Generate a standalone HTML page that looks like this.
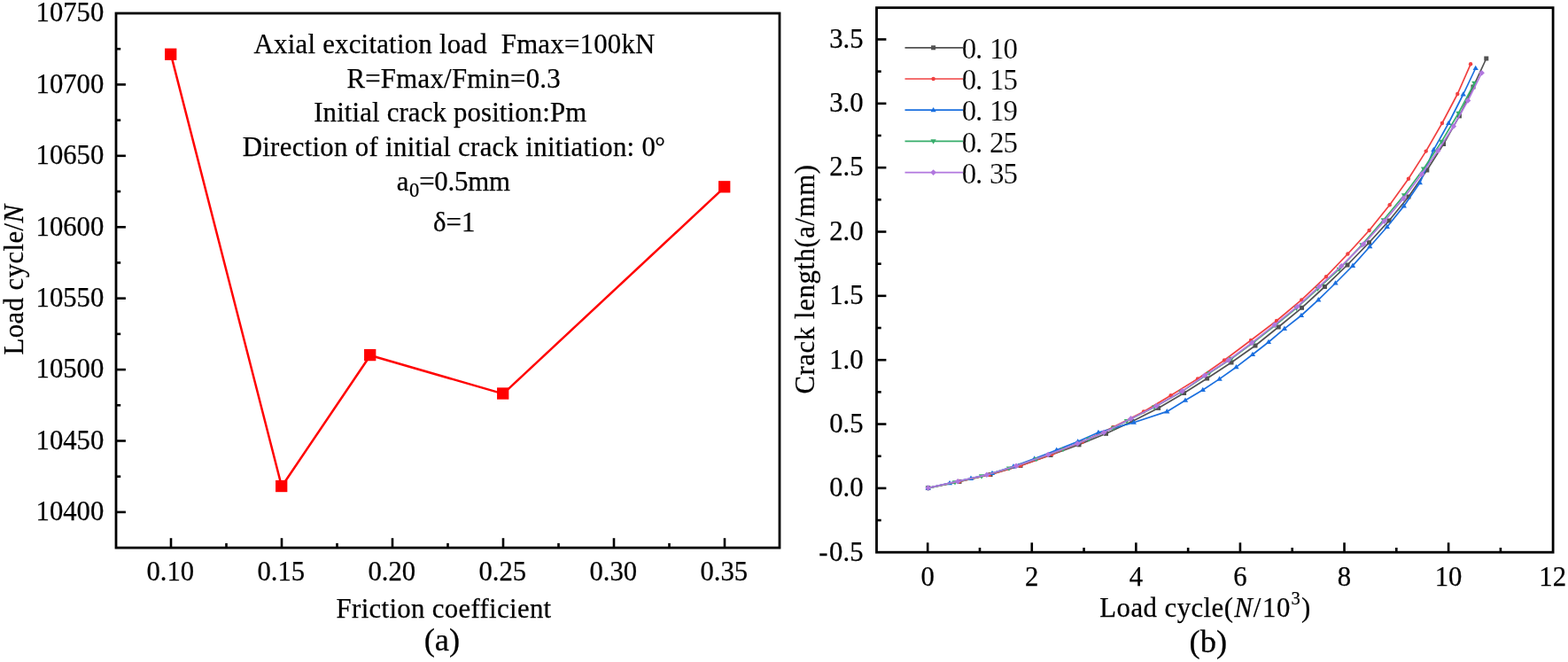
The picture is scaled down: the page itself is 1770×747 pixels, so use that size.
<!DOCTYPE html>
<html lang="en">
<head>
<meta charset="utf-8">
<title>Load cycle vs friction coefficient and crack length curves</title>
<style>
html, body { margin: 0; padding: 0; background: #ffffff; }
body { width: 1770px; height: 747px; overflow: hidden; }
svg { display: block; }
text { font-family: "Liberation Serif", serif; fill: #000; font-variant-ligatures: none; }
.t, .k, .c { stroke: #000; stroke-width: 0.25px; }
.t { font-size: 30.8px; }
.k { font-size: 30.7px; }
.c { font-size: 36.5px; }
.lg { font-size: 33px; stroke: #fff; stroke-width: 0.15px; paint-order: fill; }
.i { font-style: italic; }
.sub { font-size: 22.5px; }
.sup { font-size: 20.5px; }
.deg { font-size: 29px; }
</style>
</head>
<body>
<svg width="1770" height="747" viewBox="0 0 1770 747">
<rect x="0" y="0" width="1770" height="747" fill="#ffffff"/>
<g id="chart-a">
<rect x="131.0" y="15.0" width="749.00" height="603.10" fill="none" stroke="#000" stroke-width="2.8"/>
<line x1="193.00" y1="618.10" x2="193.00" y2="607.20" stroke="#000" stroke-width="2.6"/>
<text class="k" x="192.30" y="655.00" text-anchor="middle">0.10</text>
<line x1="318.00" y1="618.10" x2="318.00" y2="607.20" stroke="#000" stroke-width="2.6"/>
<text class="k" x="317.30" y="655.00" text-anchor="middle">0.15</text>
<line x1="443.00" y1="618.10" x2="443.00" y2="607.20" stroke="#000" stroke-width="2.6"/>
<text class="k" x="442.30" y="655.00" text-anchor="middle">0.20</text>
<line x1="568.00" y1="618.10" x2="568.00" y2="607.20" stroke="#000" stroke-width="2.6"/>
<text class="k" x="567.30" y="655.00" text-anchor="middle">0.25</text>
<line x1="693.00" y1="618.10" x2="693.00" y2="607.20" stroke="#000" stroke-width="2.6"/>
<text class="k" x="692.30" y="655.00" text-anchor="middle">0.30</text>
<line x1="818.00" y1="618.10" x2="818.00" y2="607.20" stroke="#000" stroke-width="2.6"/>
<text class="k" x="817.30" y="655.00" text-anchor="middle">0.35</text>
<line x1="255.50" y1="618.10" x2="255.50" y2="612.90" stroke="#000" stroke-width="2.6"/>
<line x1="380.50" y1="618.10" x2="380.50" y2="612.90" stroke="#000" stroke-width="2.6"/>
<line x1="505.50" y1="618.10" x2="505.50" y2="612.90" stroke="#000" stroke-width="2.6"/>
<line x1="630.50" y1="618.10" x2="630.50" y2="612.90" stroke="#000" stroke-width="2.6"/>
<line x1="755.50" y1="618.10" x2="755.50" y2="612.90" stroke="#000" stroke-width="2.6"/>
<line x1="131.00" y1="577.89" x2="141.90" y2="577.89" stroke="#000" stroke-width="2.6"/>
<text class="k" x="117.30" y="587.29" text-anchor="end">10400</text>
<line x1="131.00" y1="497.48" x2="141.90" y2="497.48" stroke="#000" stroke-width="2.6"/>
<text class="k" x="117.30" y="506.88" text-anchor="end">10450</text>
<line x1="131.00" y1="417.07" x2="141.90" y2="417.07" stroke="#000" stroke-width="2.6"/>
<text class="k" x="117.30" y="426.47" text-anchor="end">10500</text>
<line x1="131.00" y1="336.65" x2="141.90" y2="336.65" stroke="#000" stroke-width="2.6"/>
<text class="k" x="117.30" y="346.05" text-anchor="end">10550</text>
<line x1="131.00" y1="256.24" x2="141.90" y2="256.24" stroke="#000" stroke-width="2.6"/>
<text class="k" x="117.30" y="265.64" text-anchor="end">10600</text>
<line x1="131.00" y1="175.83" x2="141.90" y2="175.83" stroke="#000" stroke-width="2.6"/>
<text class="k" x="117.30" y="185.23" text-anchor="end">10650</text>
<line x1="131.00" y1="95.41" x2="141.90" y2="95.41" stroke="#000" stroke-width="2.6"/>
<text class="k" x="117.30" y="104.81" text-anchor="end">10700</text>
<text class="k" x="117.30" y="24.40" text-anchor="end">10750</text>
<line x1="131.00" y1="537.69" x2="136.20" y2="537.69" stroke="#000" stroke-width="2.6"/>
<line x1="131.00" y1="457.27" x2="136.20" y2="457.27" stroke="#000" stroke-width="2.6"/>
<line x1="131.00" y1="376.86" x2="136.20" y2="376.86" stroke="#000" stroke-width="2.6"/>
<line x1="131.00" y1="296.45" x2="136.20" y2="296.45" stroke="#000" stroke-width="2.6"/>
<line x1="131.00" y1="216.03" x2="136.20" y2="216.03" stroke="#000" stroke-width="2.6"/>
<line x1="131.00" y1="135.62" x2="136.20" y2="135.62" stroke="#000" stroke-width="2.6"/>
<line x1="131.00" y1="55.21" x2="136.20" y2="55.21" stroke="#000" stroke-width="2.6"/>
<polyline fill="none" stroke="#ff0000" stroke-width="2.5" stroke-linejoin="round" points="193.00,61.64 318.00,548.94 418.00,400.98 568.00,444.41 818.00,211.21"/>
<rect x="186.05" y="54.59" width="13.3" height="13.3" fill="#ff0000"/>
<rect x="311.05" y="541.89" width="13.3" height="13.3" fill="#ff0000"/>
<rect x="411.05" y="393.93" width="13.3" height="13.3" fill="#ff0000"/>
<rect x="561.05" y="437.36" width="13.3" height="13.3" fill="#ff0000"/>
<rect x="811.05" y="204.16" width="13.3" height="13.3" fill="#ff0000"/>
<text class="t" x="286.60" y="60.20" style="letter-spacing:0.240px">Axial excitation load&#160; Fmax=100kN</text>
<text class="t" x="391.40" y="99.00" style="letter-spacing:0.270px">R=Fmax/Fmin=0.3</text>
<text class="t" x="354.20" y="137.00" style="letter-spacing:0.150px">Initial crack position:Pm</text>
<text class="t" x="273.70" y="176.10" style="letter-spacing:0.310px">Direction of initial crack initiation: 0<tspan class="deg" dy="-1.6" dx="-0.9">°</tspan></text>
<text class="t" x="447.80" y="215.00" style="letter-spacing:-0.200px">a<tspan class="sub" dy="6.8" dx="0.6">0</tspan><tspan dy="-6.8" dx="0.2">=0.5mm</tspan></text>
<text class="t" x="489.00" y="260.70">δ=1</text>
<text class="t" x="379.60" y="697.30" style="letter-spacing:0.330px">Friction coefficient</text>
<text class="c" x="478.70" y="734.30">(a)</text>
<text class="t" transform="translate(25.50,400.40) rotate(-90)" style="letter-spacing:0.400px">Load cycle/<tspan class="i">N</tspan></text>
</g>
<g id="chart-b">
<rect x="989.5" y="8.7" width="763.60" height="614.50" fill="none" stroke="#000" stroke-width="2.8"/>
<line x1="1047.20" y1="623.20" x2="1047.20" y2="612.30" stroke="#000" stroke-width="2.6"/>
<line x1="1164.78" y1="623.20" x2="1164.78" y2="612.30" stroke="#000" stroke-width="2.6"/>
<line x1="1282.36" y1="623.20" x2="1282.36" y2="612.30" stroke="#000" stroke-width="2.6"/>
<line x1="1399.94" y1="623.20" x2="1399.94" y2="612.30" stroke="#000" stroke-width="2.6"/>
<line x1="1517.52" y1="623.20" x2="1517.52" y2="612.30" stroke="#000" stroke-width="2.6"/>
<line x1="1635.10" y1="623.20" x2="1635.10" y2="612.30" stroke="#000" stroke-width="2.6"/>
<text class="k" x="1047.20" y="660.70" text-anchor="middle">0</text>
<text class="k" x="1164.78" y="660.70" text-anchor="middle">2</text>
<text class="k" x="1282.36" y="660.70" text-anchor="middle">4</text>
<text class="k" x="1399.94" y="660.70" text-anchor="middle">6</text>
<text class="k" x="1517.52" y="660.70" text-anchor="middle">8</text>
<text class="k" x="1635.10" y="660.70" text-anchor="middle">10</text>
<text class="k" x="1752.68" y="660.70" text-anchor="middle">12</text>
<line x1="1105.99" y1="623.20" x2="1105.99" y2="618.00" stroke="#000" stroke-width="2.6"/>
<line x1="1223.57" y1="623.20" x2="1223.57" y2="618.00" stroke="#000" stroke-width="2.6"/>
<line x1="1341.15" y1="623.20" x2="1341.15" y2="618.00" stroke="#000" stroke-width="2.6"/>
<line x1="1458.73" y1="623.20" x2="1458.73" y2="618.00" stroke="#000" stroke-width="2.6"/>
<line x1="1576.31" y1="623.20" x2="1576.31" y2="618.00" stroke="#000" stroke-width="2.6"/>
<line x1="1693.89" y1="623.20" x2="1693.89" y2="618.00" stroke="#000" stroke-width="2.6"/>
<text class="k" x="924.30" y="632.55">-<tspan x="936.12">0.5</tspan></text>
<line x1="989.50" y1="550.90" x2="1000.40" y2="550.90" stroke="#000" stroke-width="2.6"/>
<text class="k" x="974.50" y="560.20" text-anchor="end">0.0</text>
<line x1="989.50" y1="478.55" x2="1000.40" y2="478.55" stroke="#000" stroke-width="2.6"/>
<text class="k" x="974.50" y="487.85" text-anchor="end">0.5</text>
<line x1="989.50" y1="406.20" x2="1000.40" y2="406.20" stroke="#000" stroke-width="2.6"/>
<text class="k" x="974.50" y="415.50" text-anchor="end">1.0</text>
<line x1="989.50" y1="333.85" x2="1000.40" y2="333.85" stroke="#000" stroke-width="2.6"/>
<text class="k" x="974.50" y="343.15" text-anchor="end">1.5</text>
<line x1="989.50" y1="261.50" x2="1000.40" y2="261.50" stroke="#000" stroke-width="2.6"/>
<text class="k" x="974.50" y="270.80" text-anchor="end">2.0</text>
<line x1="989.50" y1="189.15" x2="1000.40" y2="189.15" stroke="#000" stroke-width="2.6"/>
<text class="k" x="974.50" y="198.45" text-anchor="end">2.5</text>
<line x1="989.50" y1="116.80" x2="1000.40" y2="116.80" stroke="#000" stroke-width="2.6"/>
<text class="k" x="974.50" y="126.10" text-anchor="end">3.0</text>
<line x1="989.50" y1="44.45" x2="1000.40" y2="44.45" stroke="#000" stroke-width="2.6"/>
<text class="k" x="974.50" y="53.75" text-anchor="end">3.5</text>
<line x1="989.50" y1="587.07" x2="994.70" y2="587.07" stroke="#000" stroke-width="2.6"/>
<line x1="989.50" y1="514.73" x2="994.70" y2="514.73" stroke="#000" stroke-width="2.6"/>
<line x1="989.50" y1="442.38" x2="994.70" y2="442.38" stroke="#000" stroke-width="2.6"/>
<line x1="989.50" y1="370.02" x2="994.70" y2="370.02" stroke="#000" stroke-width="2.6"/>
<line x1="989.50" y1="297.68" x2="994.70" y2="297.68" stroke="#000" stroke-width="2.6"/>
<line x1="989.50" y1="225.32" x2="994.70" y2="225.32" stroke="#000" stroke-width="2.6"/>
<line x1="989.50" y1="152.98" x2="994.70" y2="152.98" stroke="#000" stroke-width="2.6"/>
<line x1="989.50" y1="80.62" x2="994.70" y2="80.62" stroke="#000" stroke-width="2.6"/>
<g class="s-k">
<polyline fill="none" stroke="#515151" stroke-width="1.7" stroke-linejoin="round" points="1047.7,550.6 1083.0,543.4 1118.0,535.5 1152.0,525.4 1186.0,513.5 1218.0,501.8 1248.5,489.3 1278.0,475.5 1307.6,460.4 1336.6,443.5 1362.6,427.0 1390.0,409.0 1417.0,390.0 1443.2,369.0 1469.5,347.3 1495.4,323.5 1521.0,299.0 1545.5,273.7 1568.0,249.0 1590.0,222.0 1610.8,192.0 1629.5,162.5 1647.4,130.9 1663.0,98.0 1677.8,66.0"/>
<rect x="1045.20" y="548.10" width="5.0" height="5.0" fill="#515151"/><rect x="1080.50" y="540.90" width="5.0" height="5.0" fill="#515151"/><rect x="1115.50" y="533.00" width="5.0" height="5.0" fill="#515151"/><rect x="1149.50" y="522.90" width="5.0" height="5.0" fill="#515151"/><rect x="1183.50" y="511.00" width="5.0" height="5.0" fill="#515151"/><rect x="1215.50" y="499.30" width="5.0" height="5.0" fill="#515151"/><rect x="1246.00" y="486.80" width="5.0" height="5.0" fill="#515151"/><rect x="1275.50" y="473.00" width="5.0" height="5.0" fill="#515151"/><rect x="1305.10" y="457.90" width="5.0" height="5.0" fill="#515151"/><rect x="1334.10" y="441.00" width="5.0" height="5.0" fill="#515151"/><rect x="1360.10" y="424.50" width="5.0" height="5.0" fill="#515151"/><rect x="1387.50" y="406.50" width="5.0" height="5.0" fill="#515151"/><rect x="1414.50" y="387.50" width="5.0" height="5.0" fill="#515151"/><rect x="1440.70" y="366.50" width="5.0" height="5.0" fill="#515151"/><rect x="1467.00" y="344.80" width="5.0" height="5.0" fill="#515151"/><rect x="1492.90" y="321.00" width="5.0" height="5.0" fill="#515151"/><rect x="1518.50" y="296.50" width="5.0" height="5.0" fill="#515151"/><rect x="1543.00" y="271.20" width="5.0" height="5.0" fill="#515151"/><rect x="1565.50" y="246.50" width="5.0" height="5.0" fill="#515151"/><rect x="1587.50" y="219.50" width="5.0" height="5.0" fill="#515151"/><rect x="1608.30" y="189.50" width="5.0" height="5.0" fill="#515151"/><rect x="1627.00" y="160.00" width="5.0" height="5.0" fill="#515151"/><rect x="1644.90" y="128.40" width="5.0" height="5.0" fill="#515151"/><rect x="1660.50" y="95.50" width="5.0" height="5.0" fill="#515151"/><rect x="1675.30" y="63.50" width="5.0" height="5.0" fill="#515151"/>
</g>
<g class="s-r">
<polyline fill="none" stroke="#f14040" stroke-width="1.7" stroke-linejoin="round" points="1047.7,550.6 1083.0,543.3 1117.0,535.7 1152.0,525.4 1187.6,512.6 1222.0,498.5 1256.5,482.0 1291.0,464.4 1321.6,446.2 1352.0,427.4 1382.0,406.5 1412.0,384.0 1441.0,362.0 1469.2,338.4 1497.0,312.2 1521.4,286.5 1545.6,260.0 1568.7,231.2 1589.9,201.8 1609.7,170.6 1627.9,139.0 1645.3,106.0 1660.1,72.3"/>
<circle cx="1047.70" cy="550.60" r="2.2" fill="#f14040"/><circle cx="1083.00" cy="543.30" r="2.2" fill="#f14040"/><circle cx="1117.00" cy="535.70" r="2.2" fill="#f14040"/><circle cx="1152.00" cy="525.40" r="2.2" fill="#f14040"/><circle cx="1187.60" cy="512.60" r="2.2" fill="#f14040"/><circle cx="1222.00" cy="498.50" r="2.2" fill="#f14040"/><circle cx="1256.50" cy="482.00" r="2.2" fill="#f14040"/><circle cx="1291.00" cy="464.40" r="2.2" fill="#f14040"/><circle cx="1321.60" cy="446.20" r="2.2" fill="#f14040"/><circle cx="1352.00" cy="427.40" r="2.2" fill="#f14040"/><circle cx="1382.00" cy="406.50" r="2.2" fill="#f14040"/><circle cx="1412.00" cy="384.00" r="2.2" fill="#f14040"/><circle cx="1441.00" cy="362.00" r="2.2" fill="#f14040"/><circle cx="1469.20" cy="338.40" r="2.2" fill="#f14040"/><circle cx="1497.00" cy="312.20" r="2.2" fill="#f14040"/><circle cx="1521.40" cy="286.50" r="2.2" fill="#f14040"/><circle cx="1545.60" cy="260.00" r="2.2" fill="#f14040"/><circle cx="1568.70" cy="231.20" r="2.2" fill="#f14040"/><circle cx="1589.90" cy="201.80" r="2.2" fill="#f14040"/><circle cx="1609.70" cy="170.60" r="2.2" fill="#f14040"/><circle cx="1627.90" cy="139.00" r="2.2" fill="#f14040"/><circle cx="1645.30" cy="106.00" r="2.2" fill="#f14040"/><circle cx="1660.10" cy="72.30" r="2.2" fill="#f14040"/>
</g>
<g class="s-b">
<polyline fill="none" stroke="#1a6fdf" stroke-width="1.7" stroke-linejoin="round" points="1047.7,550.6 1072.0,545.2 1096.0,539.9 1120.0,534.0 1144.0,526.4 1167.7,517.6 1192.7,507.9 1216.7,498.3 1239.9,488.0 1279.8,476.8 1317.3,464.4 1338.0,451.8 1357.8,440.0 1376.6,427.6 1395.5,414.2 1414.0,400.0 1432.0,386.0 1449.9,370.9 1468.9,356.0 1488.2,338.4 1507.5,319.5 1527.0,299.9 1546.3,278.2 1565.8,256.0 1584.8,232.4 1602.8,206.3 1618.3,169.1 1635.2,139.0 1651.7,106.5 1665.7,77.0"/>
<path d="M1047.70,547.30 L1050.84,552.65 L1044.57,552.65 Z" fill="#1a6fdf"/><path d="M1072.00,541.90 L1075.13,547.25 L1068.87,547.25 Z" fill="#1a6fdf"/><path d="M1096.00,536.60 L1099.13,541.95 L1092.87,541.95 Z" fill="#1a6fdf"/><path d="M1120.00,530.70 L1123.13,536.05 L1116.87,536.05 Z" fill="#1a6fdf"/><path d="M1144.00,523.10 L1147.13,528.45 L1140.87,528.45 Z" fill="#1a6fdf"/><path d="M1167.70,514.30 L1170.84,519.65 L1164.57,519.65 Z" fill="#1a6fdf"/><path d="M1192.70,504.60 L1195.84,509.95 L1189.57,509.95 Z" fill="#1a6fdf"/><path d="M1216.70,495.00 L1219.84,500.35 L1213.57,500.35 Z" fill="#1a6fdf"/><path d="M1239.90,484.70 L1243.04,490.05 L1236.77,490.05 Z" fill="#1a6fdf"/><path d="M1279.80,473.50 L1282.93,478.85 L1276.66,478.85 Z" fill="#1a6fdf"/><path d="M1317.30,461.10 L1320.43,466.45 L1314.16,466.45 Z" fill="#1a6fdf"/><path d="M1338.00,448.50 L1341.13,453.85 L1334.87,453.85 Z" fill="#1a6fdf"/><path d="M1357.80,436.70 L1360.93,442.05 L1354.66,442.05 Z" fill="#1a6fdf"/><path d="M1376.60,424.30 L1379.73,429.65 L1373.46,429.65 Z" fill="#1a6fdf"/><path d="M1395.50,410.90 L1398.63,416.25 L1392.37,416.25 Z" fill="#1a6fdf"/><path d="M1414.00,396.70 L1417.13,402.05 L1410.87,402.05 Z" fill="#1a6fdf"/><path d="M1432.00,382.70 L1435.13,388.05 L1428.87,388.05 Z" fill="#1a6fdf"/><path d="M1449.90,367.60 L1453.04,372.95 L1446.77,372.95 Z" fill="#1a6fdf"/><path d="M1468.90,352.70 L1472.04,358.05 L1465.77,358.05 Z" fill="#1a6fdf"/><path d="M1488.20,335.10 L1491.34,340.45 L1485.07,340.45 Z" fill="#1a6fdf"/><path d="M1507.50,316.20 L1510.63,321.55 L1504.37,321.55 Z" fill="#1a6fdf"/><path d="M1527.00,296.60 L1530.13,301.95 L1523.87,301.95 Z" fill="#1a6fdf"/><path d="M1546.30,274.90 L1549.43,280.25 L1543.16,280.25 Z" fill="#1a6fdf"/><path d="M1565.80,252.70 L1568.93,258.05 L1562.66,258.05 Z" fill="#1a6fdf"/><path d="M1584.80,229.10 L1587.93,234.45 L1581.66,234.45 Z" fill="#1a6fdf"/><path d="M1602.80,203.00 L1605.93,208.35 L1599.66,208.35 Z" fill="#1a6fdf"/><path d="M1618.30,165.80 L1621.43,171.15 L1615.16,171.15 Z" fill="#1a6fdf"/><path d="M1635.20,135.70 L1638.34,141.05 L1632.07,141.05 Z" fill="#1a6fdf"/><path d="M1651.70,103.20 L1654.84,108.55 L1648.57,108.55 Z" fill="#1a6fdf"/><path d="M1665.70,73.70 L1668.84,79.05 L1662.57,79.05 Z" fill="#1a6fdf"/>
</g>
<g class="s-g">
<polyline fill="none" stroke="#37ad6b" stroke-width="1.7" stroke-linejoin="round" points="1047.7,550.9 1078.0,544.2 1108.0,537.4 1139.0,528.5 1170.0,518.0 1200.0,507.0 1229.0,495.5 1257.0,482.7 1272.0,475.1 1303.0,459.5 1333.0,442.6 1365.0,421.0 1390.0,404.8 1415.0,386.3 1439.5,367.0 1463.5,347.7 1487.5,325.8 1511.7,303.7 1537.4,276.3 1561.7,248.3 1585.0,220.3 1607.0,190.5 1627.2,159.9 1646.4,127.7 1664.3,93.8"/>
<path d="M1047.70,554.20 L1050.84,548.85 L1044.57,548.85 Z" fill="#37ad6b"/><path d="M1078.00,547.50 L1081.13,542.15 L1074.87,542.15 Z" fill="#37ad6b"/><path d="M1108.00,540.70 L1111.13,535.35 L1104.87,535.35 Z" fill="#37ad6b"/><path d="M1139.00,531.80 L1142.13,526.45 L1135.87,526.45 Z" fill="#37ad6b"/><path d="M1170.00,521.30 L1173.13,515.95 L1166.87,515.95 Z" fill="#37ad6b"/><path d="M1200.00,510.30 L1203.13,504.95 L1196.87,504.95 Z" fill="#37ad6b"/><path d="M1229.00,498.80 L1232.13,493.45 L1225.87,493.45 Z" fill="#37ad6b"/><path d="M1257.00,486.00 L1260.13,480.65 L1253.87,480.65 Z" fill="#37ad6b"/><path d="M1272.00,478.40 L1275.13,473.05 L1268.87,473.05 Z" fill="#37ad6b"/><path d="M1303.00,462.80 L1306.13,457.45 L1299.87,457.45 Z" fill="#37ad6b"/><path d="M1333.00,445.90 L1336.13,440.55 L1329.87,440.55 Z" fill="#37ad6b"/><path d="M1365.00,424.30 L1368.13,418.95 L1361.87,418.95 Z" fill="#37ad6b"/><path d="M1390.00,408.10 L1393.13,402.75 L1386.87,402.75 Z" fill="#37ad6b"/><path d="M1415.00,389.60 L1418.13,384.25 L1411.87,384.25 Z" fill="#37ad6b"/><path d="M1439.50,370.30 L1442.63,364.95 L1436.37,364.95 Z" fill="#37ad6b"/><path d="M1463.50,351.00 L1466.63,345.65 L1460.37,345.65 Z" fill="#37ad6b"/><path d="M1487.50,329.10 L1490.63,323.75 L1484.37,323.75 Z" fill="#37ad6b"/><path d="M1511.70,307.00 L1514.84,301.65 L1508.57,301.65 Z" fill="#37ad6b"/><path d="M1537.40,279.60 L1540.54,274.25 L1534.27,274.25 Z" fill="#37ad6b"/><path d="M1561.70,251.60 L1564.84,246.25 L1558.57,246.25 Z" fill="#37ad6b"/><path d="M1585.00,223.60 L1588.13,218.25 L1581.87,218.25 Z" fill="#37ad6b"/><path d="M1607.00,193.80 L1610.13,188.45 L1603.87,188.45 Z" fill="#37ad6b"/><path d="M1627.20,163.20 L1630.34,157.85 L1624.07,157.85 Z" fill="#37ad6b"/><path d="M1646.40,131.00 L1649.54,125.65 L1643.27,125.65 Z" fill="#37ad6b"/><path d="M1664.30,97.10 L1667.43,91.75 L1661.16,91.75 Z" fill="#37ad6b"/>
</g>
<g class="s-p">
<polyline fill="none" stroke="#b177de" stroke-width="1.7" stroke-linejoin="round" points="1047.7,550.6 1081.2,543.2 1113.9,535.8 1147.1,525.8 1183.2,513.0 1216.3,500.5 1246.1,488.0 1276.6,472.4 1305.5,458.0 1334.5,441.4 1359.9,423.7 1386.7,406.5 1413.0,387.0 1438.7,366.6 1464.4,346.0 1489.3,323.2 1514.2,300.2 1539.1,275.6 1562.6,249.6 1584.3,223.9 1604.9,196.6 1623.3,170.0 1640.8,142.5 1657.0,113.5 1672.6,82.2"/>
<path d="M1047.70,547.30 L1051.00,550.60 L1047.70,553.90 L1044.40,550.60 Z" fill="#b177de"/><path d="M1081.20,539.90 L1084.50,543.20 L1081.20,546.50 L1077.90,543.20 Z" fill="#b177de"/><path d="M1113.90,532.50 L1117.20,535.80 L1113.90,539.10 L1110.60,535.80 Z" fill="#b177de"/><path d="M1147.10,522.50 L1150.40,525.80 L1147.10,529.10 L1143.80,525.80 Z" fill="#b177de"/><path d="M1183.20,509.70 L1186.50,513.00 L1183.20,516.30 L1179.90,513.00 Z" fill="#b177de"/><path d="M1216.30,497.20 L1219.60,500.50 L1216.30,503.80 L1213.00,500.50 Z" fill="#b177de"/><path d="M1246.10,484.70 L1249.40,488.00 L1246.10,491.30 L1242.80,488.00 Z" fill="#b177de"/><path d="M1276.60,469.10 L1279.90,472.40 L1276.60,475.70 L1273.30,472.40 Z" fill="#b177de"/><path d="M1305.50,454.70 L1308.80,458.00 L1305.50,461.30 L1302.20,458.00 Z" fill="#b177de"/><path d="M1334.50,438.10 L1337.80,441.40 L1334.50,444.70 L1331.20,441.40 Z" fill="#b177de"/><path d="M1359.90,420.40 L1363.20,423.70 L1359.90,427.00 L1356.60,423.70 Z" fill="#b177de"/><path d="M1386.70,403.20 L1390.00,406.50 L1386.70,409.80 L1383.40,406.50 Z" fill="#b177de"/><path d="M1413.00,383.70 L1416.30,387.00 L1413.00,390.30 L1409.70,387.00 Z" fill="#b177de"/><path d="M1438.70,363.30 L1442.00,366.60 L1438.70,369.90 L1435.40,366.60 Z" fill="#b177de"/><path d="M1464.40,342.70 L1467.70,346.00 L1464.40,349.30 L1461.10,346.00 Z" fill="#b177de"/><path d="M1489.30,319.90 L1492.60,323.20 L1489.30,326.50 L1486.00,323.20 Z" fill="#b177de"/><path d="M1514.20,296.90 L1517.50,300.20 L1514.20,303.50 L1510.90,300.20 Z" fill="#b177de"/><path d="M1539.10,272.30 L1542.40,275.60 L1539.10,278.90 L1535.80,275.60 Z" fill="#b177de"/><path d="M1562.60,246.30 L1565.90,249.60 L1562.60,252.90 L1559.30,249.60 Z" fill="#b177de"/><path d="M1584.30,220.60 L1587.60,223.90 L1584.30,227.20 L1581.00,223.90 Z" fill="#b177de"/><path d="M1604.90,193.30 L1608.20,196.60 L1604.90,199.90 L1601.60,196.60 Z" fill="#b177de"/><path d="M1623.30,166.70 L1626.60,170.00 L1623.30,173.30 L1620.00,170.00 Z" fill="#b177de"/><path d="M1640.80,139.20 L1644.10,142.50 L1640.80,145.80 L1637.50,142.50 Z" fill="#b177de"/><path d="M1657.00,110.20 L1660.30,113.50 L1657.00,116.80 L1653.70,113.50 Z" fill="#b177de"/><path d="M1672.60,78.90 L1675.90,82.20 L1672.60,85.50 L1669.30,82.20 Z" fill="#b177de"/>
</g>
<line x1="1021.5" y1="53.80" x2="1087" y2="53.80" stroke="#515151" stroke-width="1.7"/>
<rect x="1051.10" y="51.30" width="5.0" height="5.0" fill="#515151"/>
<text class="lg" x="1085.7 1101.1 1116.9 1132.5" y="65.90">0.10</text>
<line x1="1021.5" y1="89.00" x2="1087" y2="89.00" stroke="#f14040" stroke-width="1.7"/>
<circle cx="1053.60" cy="89.00" r="2.2" fill="#f14040"/>
<text class="lg" x="1085.7 1101.1 1116.9 1132.5" y="101.10">0.15</text>
<line x1="1021.5" y1="124.20" x2="1087" y2="124.20" stroke="#1a6fdf" stroke-width="1.7"/>
<path d="M1053.60,120.90 L1056.73,126.25 L1050.46,126.25 Z" fill="#1a6fdf"/>
<text class="lg" x="1085.7 1101.1 1116.9 1132.5" y="136.30">0.19</text>
<line x1="1021.5" y1="159.40" x2="1087" y2="159.40" stroke="#37ad6b" stroke-width="1.7"/>
<path d="M1053.60,162.70 L1056.73,157.35 L1050.46,157.35 Z" fill="#37ad6b"/>
<text class="lg" x="1085.7 1101.1 1116.9 1132.5" y="171.50">0.25</text>
<line x1="1021.5" y1="194.60" x2="1087" y2="194.60" stroke="#b177de" stroke-width="1.7"/>
<path d="M1053.60,191.30 L1056.90,194.60 L1053.60,197.90 L1050.30,194.60 Z" fill="#b177de"/>
<text class="lg" x="1085.7 1101.1 1116.9 1132.5" y="206.70">0.35</text>
<text class="t" x="1241.30" y="696.10" style="letter-spacing:0.450px">Load cycle(<tspan class="i" dx="0.8">N</tspan><tspan dx="0.6">/</tspan><tspan dx="1.2">10</tspan><tspan class="sup" dy="-14" dx="0.8">3</tspan><tspan dy="14" dx="0.6">)</tspan></text>
<text class="c" x="1342.60" y="736.30">(b)</text>
<text class="t" transform="translate(919.10,444.60) rotate(-90)" style="letter-spacing:0.570px">Crack length(a/mm)</text>
</g>
</svg>
</body>
</html>
